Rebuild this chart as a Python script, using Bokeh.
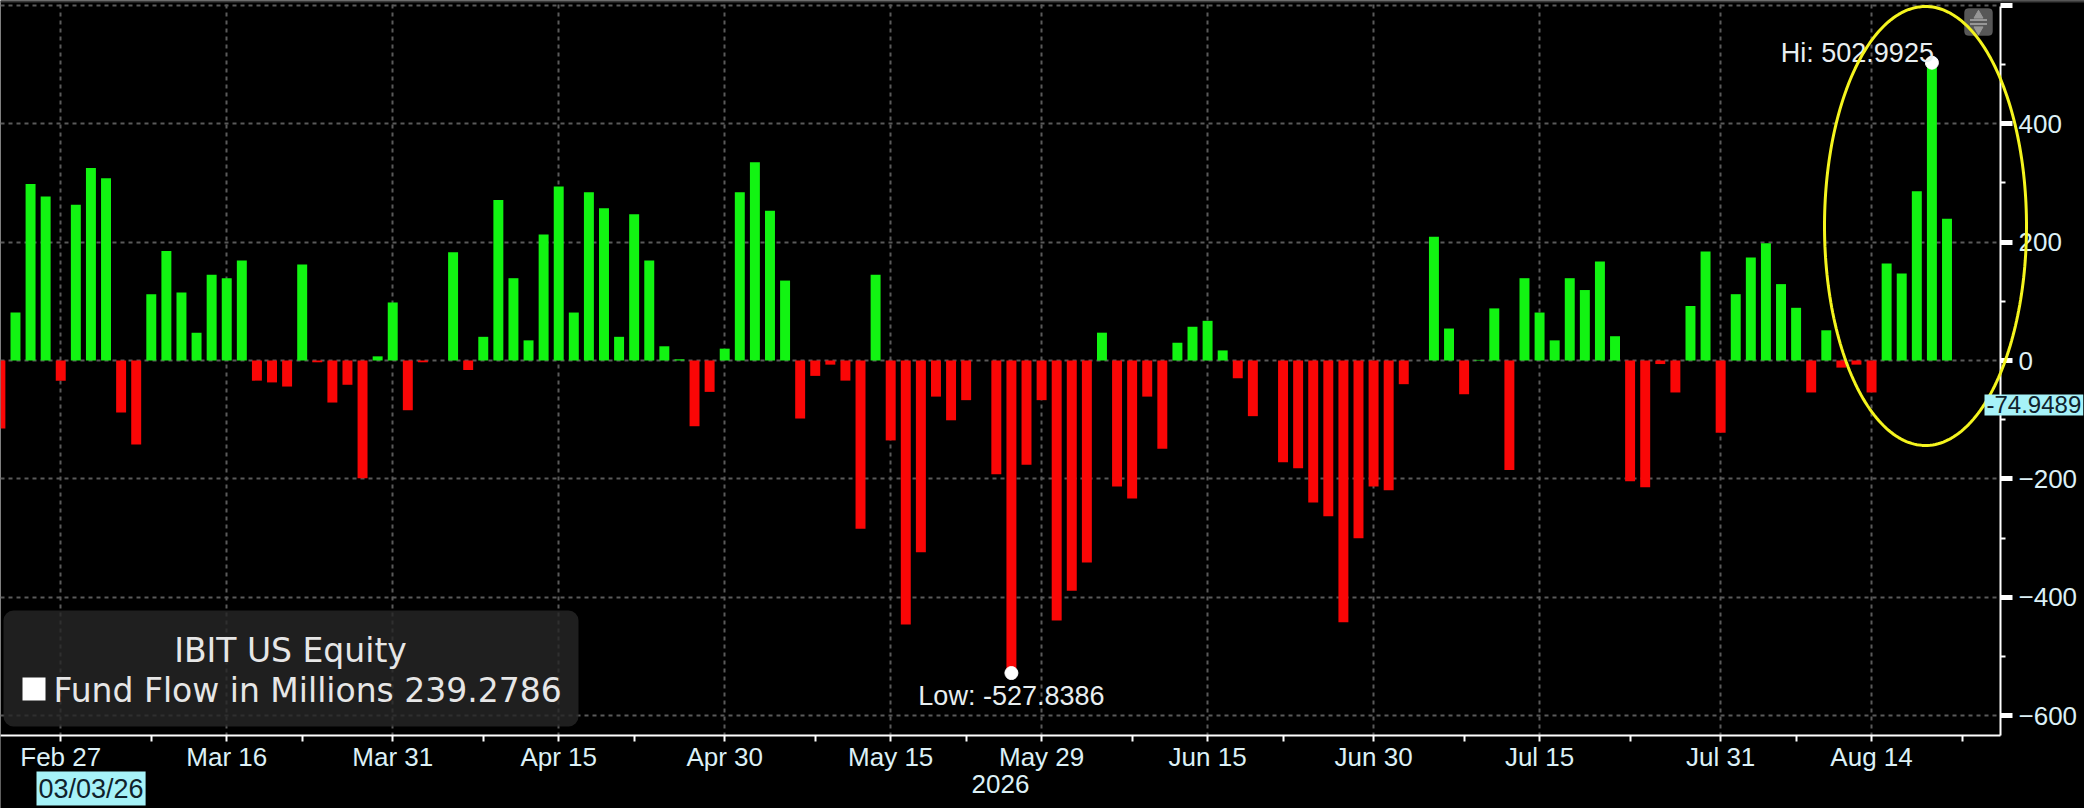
import numpy as np
from bokeh.plotting import figure
from bokeh.models import (Range1d, FixedTicker, ColumnDataSource, Label,
                          BoxAnnotation, PolyAnnotation)
from bokeh.embed import file_html
from bokeh.resources import INLINE

# ---------------- data ----------------
start_date = "2026-02-23"          # first weekday slot on the chart
# IBIT US Equity daily fund flow, $ millions, one value per weekday (None = market holiday)
flows = [
    -115, 81, 298, 277, -34, 263, 325, 308, -88, -142,
    112, 185, 115, 47, 145, 139, 169, -34, -37, -44,
    162, -3, -71, -41, -199, 7, 98, -84, -3, None,
    183, -16, 40, 271, 139, 34, 213, 294, 81, 284,
    257, 40, 247, 169, 24, 2, -111, -53, 20, 284,
    335, 253, 135, -98, -26, -7, -34, -284, 145, -135,
    -446, -324, -61, -101, -67, None, -192, -527.8386, -176, -67,
    -439, -389, -341, 47, -213, -233, -61, -149, 30, 57,
    67, 17, -30, -94, None, -172, -182, -240, -263, -442,
    -300, -213, -219, -40, None, 209, 54, -57, 1, 88,
    -185, 139, 81, 34, 139, 119, 167, 41, -204, -214,
    -6, -54, 92, 184, -122, 112, 174, 198, 129, 89,
    -54, 51, -12, -7, -54, 164, 147, 286, 502.9925, 239.2786,
]
security = "IBIT US Equity"
series_name = "Fund Flow in Millions"
last_value = 239.2786
marker_value = -74.9489
cursor_date_label = "03/03/26"
year_label = "2026"

tick_dates = ["2026-02-27", "2026-03-16", "2026-03-31", "2026-04-15", "2026-04-30",
              "2026-05-15", "2026-05-29", "2026-06-15", "2026-06-30", "2026-07-15",
              "2026-07-31", "2026-08-14"]
tick_labels = ["Feb 27", "Mar 16", "Mar 31", "Apr 15", "Apr 30", "May 15",
               "May 29", "Jun 15", "Jun 30", "Jul 15", "Jul 31", "Aug 14"]
minor_dates = ["2026-03-09", "2026-03-23", "2026-04-08", "2026-04-22", "2026-05-08",
               "2026-05-22", "2026-06-08", "2026-06-22", "2026-07-08", "2026-07-23",
               "2026-08-07", "2026-08-24"]
y_ticks = [-600, -400, -200, 0, 200, 400, 600]
y_minor = [-500, -300, -100, 100, 300, 500]
y_hidden_labels = [600]            # tick drawn at the top edge, label hidden

# ---------------- helpers (pixel placement of annotations) ----------------
W, H = 2084, 808
SLOT = 15.09      # px per weekday slot
X0 = -15.2        # px of slot 0 centre
Y0 = 360.0        # px of zero line
PXU = 0.5921      # px per $m
AX_X = 2000       # px of the value axis line
AX_Y = 735        # px of the date axis line


def fx(px):
    return (px - X0) / SLOT


def fy(py):
    return (Y0 - py) / PXU


def idx(d):
    return int(np.busday_count(start_date, d)) + 1


xs, tops, cols = [], [], []
for i, v in enumerate(flows):
    if v is None:
        continue
    xs.append(i + 1)
    tops.append(v)
    cols.append("#12f412" if v >= 0 else "#fa0606")
src = ColumnDataSource(dict(x=xs, top=tops, color=cols))

num = [v if v is not None else 0 for v in flows]
i_hi = int(np.argmax(num)) + 1
i_lo = int(np.argmin(num)) + 1
hi_v = flows[i_hi - 1]
lo_v = flows[i_lo - 1]

FONT = "Liberation Sans, Arial, sans-serif"
LFONT = "DejaVu Sans, sans-serif"
LBL = "#dcf0f6"

p = figure(width=W, height=H,
           x_range=Range1d(fx(0), fx(W)), y_range=Range1d(fy(H), fy(0)),
           y_axis_location="right", toolbar_location=None, output_backend="svg",
           background_fill_color="black", border_fill_color="black",
           outline_line_color=None, min_border=0)

# grid
for g in (p.xgrid, p.ygrid):
    g.grid_line_color = "#5a5a5a"
    g.grid_line_dash = "4 4"
    g.grid_line_width = 2

# black masks outside the plotting area (hide grid beyond the axes)
p.add_layout(BoxAnnotation(left=fx(AX_X + 1), fill_color="black", fill_alpha=1,
                           line_color=None, level="underlay"))
p.add_layout(BoxAnnotation(top=fy(AX_Y + 1), fill_color="black", fill_alpha=1,
                           line_color=None, level="underlay"))
# thin top border
p.add_layout(BoxAnnotation(top=fy(0), bottom=fy(2), fill_color="#3a3a3a", fill_alpha=1,
                           line_color=None, level="underlay"))

p.vbar(x="x", top="top", bottom=0, width=0.66, fill_color="color",
       line_color=None, source=src)

# axes
xa = p.xaxis[0]
major_idx = [idx(d) for d in tick_dates]
xa.ticker = FixedTicker(ticks=major_idx, minor_ticks=[idx(d) for d in minor_dates])
xa.major_label_overrides = {k: t for k, t in zip(major_idx, tick_labels)}
xa.axis_label = year_label
xa.fixed_location = fy(AX_Y)
xa.bounds = (fx(0), fx(AX_X))
ya = p.yaxis[0]
ya.ticker = FixedTicker(ticks=y_ticks, minor_ticks=y_minor)
ya.major_label_overrides = {v: "" for v in y_hidden_labels}
ya.fixed_location = fx(AX_X)
ya.bounds = (fy(AX_Y), fy(6))
for a in (xa, ya):
    a.axis_line_color = "white"
    a.axis_line_width = 2
    a.major_tick_line_color = "white"
    a.minor_tick_line_color = "white"
    a.major_tick_in = 0
    a.minor_tick_in = 0
    a.major_label_text_color = LBL
    a.major_label_text_font = FONT
    a.major_label_text_font_size = "26px"
    a.axis_label_text_color = LBL
    a.axis_label_text_font = FONT
    a.axis_label_text_font_size = "26px"
    a.axis_label_text_font_style = "normal"
xa.major_tick_out = 6
xa.minor_tick_out = 6
xa.major_tick_line_width = 2
xa.minor_tick_line_width = 2
xa.major_label_standoff = 0
xa.axis_label_standoff = 0
ya.major_tick_out = 12
ya.major_tick_line_width = 5
ya.minor_tick_out = 5
ya.minor_tick_line_width = 2
ya.major_label_standoff = 6

# hi / low markers
p.scatter([i_hi, i_lo], [hi_v, lo_v], size=13, color="white")
p.add_layout(Label(x=i_hi, y=hi_v, text=f"Hi: {hi_v:.4f}", text_align="right",
                   text_baseline="alphabetic", y_offset=10, x_offset=2,
                   text_color="#e8eef0", text_font=FONT, text_font_size="27px"))
p.add_layout(Label(x=i_lo, y=lo_v, text=f"Low: {lo_v:.4f}", text_align="center",
                   text_baseline="top", y_offset=-8,
                   text_color="#e8eef0", text_font=FONT, text_font_size="27px"))

# yellow highlight ellipse
t = np.linspace(0, 2 * np.pi, 240)
cx, cy = fx(1925), fy(225.5)
ax_, ay_ = 101 / SLOT, 219.5 / PXU
p.add_layout(PolyAnnotation(xs=list(cx + ax_ * np.cos(t)), ys=list(cy + ay_ * np.sin(t)),
                            fill_alpha=0, line_color="#f4f41e", line_alpha=1,
                            line_width=3))

# legend panel
p.add_layout(BoxAnnotation(left=fx(3), right=fx(578), top=fy(610), bottom=fy(726),
                           fill_color="#262626", fill_alpha=0.82, line_color=None,
                           border_radius=10))
p.add_layout(Label(x=fx(290), y=fy(650), text=security, text_align="center",
                   text_baseline="middle", text_color="#e6e6e6", text_font=LFONT,
                   text_font_size="33px"))
p.add_layout(BoxAnnotation(left=fx(22), right=fx(45), top=fy(677), bottom=fy(700),
                           fill_color="white", fill_alpha=1, line_color=None))
p.add_layout(Label(x=fx(53), y=fy(690), text=f"{series_name} {last_value:.4f}",
                   text_align="left", text_baseline="middle", text_color="#e6e6e6",
                   text_font=LFONT, text_font_size="33px"))

# scroll widget
p.add_layout(BoxAnnotation(left=fx(1964), right=fx(1992), top=fy(8), bottom=fy(35),
                           fill_color="#575757", fill_alpha=1, line_color="#6e6e6e",
                           border_radius=4, level="underlay"))
p.scatter([fx(1978)], [fy(15)], marker="triangle", size=9, color="#979797")
p.scatter([fx(1978)], [fy(29)], marker="inverted_triangle", size=9, color="#979797")
p.scatter([fx(1978), fx(1978)], [fy(19.5), fy(23.5)], marker="dash", size=17,
          line_color="#979797", line_width=2)

# value tags
p.add_layout(Label(x=fx(1984), y=marker_value, text=f"{marker_value:.4f}",
                   text_align="left", text_baseline="middle", text_color="#10222c",
                   background_fill_color="#a6f2f8", padding=2,
                   text_font=FONT, text_font_size="24px"))
p.add_layout(Label(x=fx(36), y=fy(788), text=cursor_date_label, text_align="left",
                   text_baseline="middle", text_color="#10222c",
                   background_fill_color="#a6f2f8", padding=2,
                   text_font=FONT, text_font_size="27px"))

open("out.html", "w").write(file_html(p, INLINE))
